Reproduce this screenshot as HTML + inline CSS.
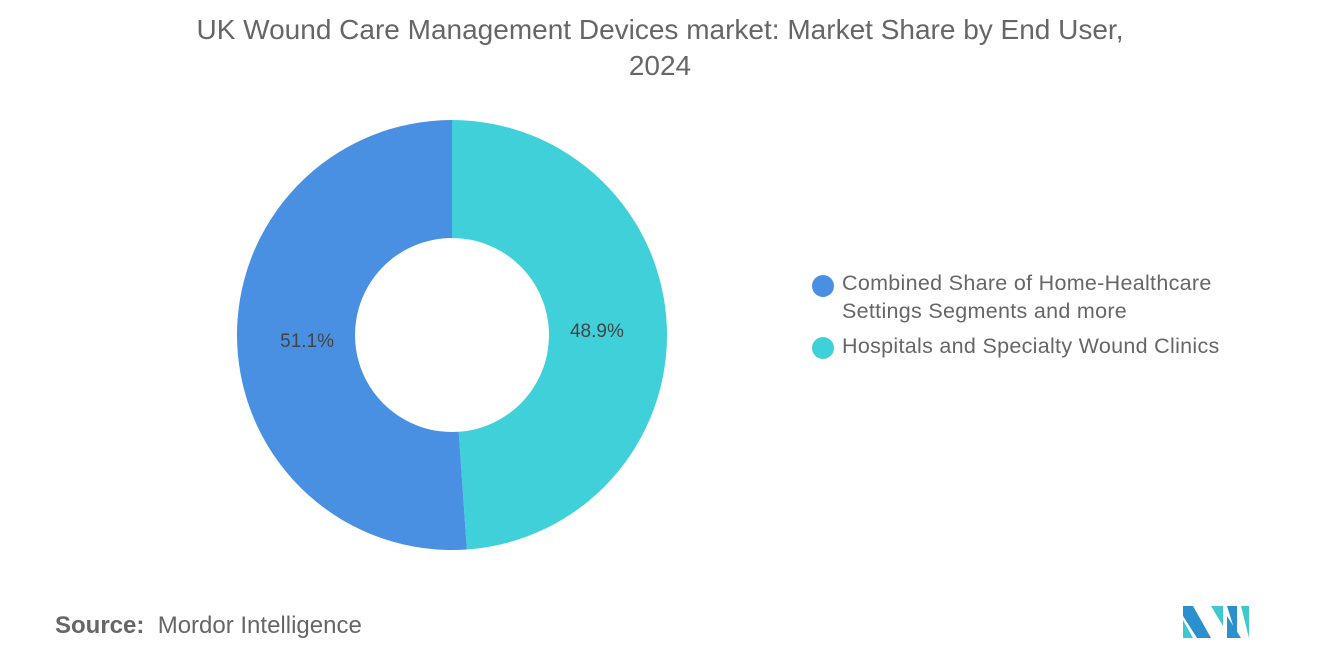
<!DOCTYPE html>
<html><head><meta charset="utf-8"><style>
body{margin:0;width:1320px;height:665px;background:#fff;font-family:"Liberation Sans",sans-serif;position:relative;overflow:hidden}
.t{position:absolute;left:0;width:1320px;top:12px;text-align:center;font-size:28px;color:#666;line-height:36px}
.leg{position:absolute;left:812px;font-size:21.5px;color:#666;line-height:28px;letter-spacing:0.3px}
.dot{position:absolute;left:812px;width:22px;height:22px;border-radius:50%}
</style></head><body>
<div class="t">UK Wound Care Management Devices market: Market Share by End User,<br>2024</div>
<svg id="c" width="1320" height="665" style="position:absolute;left:0;top:0"></svg>
<div class="dot" style="top:275px;background:#4a90e2"></div>
<div class="leg" style="left:842px;top:269px">Combined Share of Home-Healthcare<br>Settings Segments and more</div>
<div class="dot" style="top:337px;background:#40d0da"></div>
<div class="leg" style="left:842px;top:332px">Hospitals and Specialty Wound Clinics</div>
<div style="position:absolute;left:55px;top:612px;font-size:24px;color:#666"><b style="font-weight:600">Source:</b>&nbsp; Mordor Intelligence</div>
<svg width="70" height="40" style="position:absolute;left:1183px;top:602px">
<polygon points="0,4 10,4 28,36 14,36 0,14" fill="#2c8fce"/><polygon points="0,18 10,36 0,36" fill="#40c8cf"/>
<polygon points="28,4 40,4 40,24" fill="#40c8cf"/><polygon points="44,4 54,4 54,36" fill="#2c8fce"/>
<polygon points="44,14 44,36 58,36" fill="#2c8fce"/><polygon points="58,4 66,4 66,36" fill="#40c8cf"/>
</svg>
<script>
const labels=["Hospitals and Specialty Wound Clinics","Combined Share of Home-Healthcare Settings Segments and more"];
const values=[48.9,51.1];
const colors=["#40d0da","#4a90e2"];
const svg=document.getElementById('c');const ns="http://www.w3.org/2000/svg";
const cx=452,cy=335,R=215,r=97;
const tot=values.reduce((a,b)=>a+b,0);
let a0=0;
values.forEach((v,i)=>{
 const a1=a0+v/tot*2*Math.PI;
 const p=(a,rad)=>[cx+rad*Math.sin(a),cy-rad*Math.cos(a)];
 const L=(a1-a0)>Math.PI?1:0;
 const [x0,y0]=p(a0,R),[x1,y1]=p(a1,R),[x2,y2]=p(a1,r),[x3,y3]=p(a0,r);
 const path=document.createElementNS(ns,'path');
 path.setAttribute('d',`M${x0},${y0}A${R},${R} 0 ${L} 1 ${x1},${y1}L${x2},${y2}A${r},${r} 0 ${L} 0 ${x3},${y3}Z`);
 path.setAttribute('fill',colors[i]);
 
 
 svg.appendChild(path);
 const m=(a0+a1)/2;const [tx,ty]=p(m,145);
 const t=document.createElementNS(ns,'text');
 t.setAttribute('x',tx);t.setAttribute('y',ty+7);t.setAttribute('text-anchor','middle');
 t.setAttribute('font-size','19');t.setAttribute('fill','#444');t.setAttribute('font-family','Liberation Sans, sans-serif');
 t.textContent=v.toFixed(1)+'%';
 
 
 svg.appendChild(t);
 a0=a1;
});
</script>
</body></html>
